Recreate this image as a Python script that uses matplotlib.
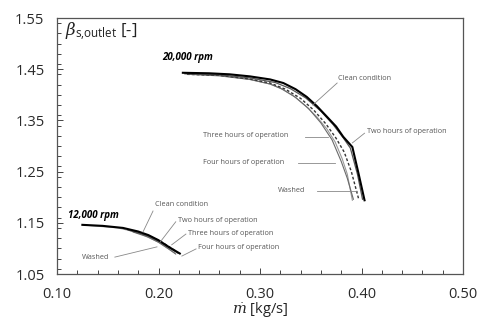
import matplotlib
matplotlib.use("Agg")
import matplotlib.pyplot as plt
from matplotlib.ticker import MultipleLocator

plt.rcParams['font.family'] = ['Open Sans', 'DejaVu Sans']
plt.rcParams['mathtext.fontset'] = 'custom'
plt.rcParams['mathtext.it'] = 'DejaVu Serif:italic'
plt.rcParams['mathtext.rm'] = 'Open Sans'

# 20,000 rpm line, mass flow [kg/s] vs beta
m20_clean = [0.224, 0.250, 0.270, 0.290, 0.310, 0.323, 0.335, 0.346, 0.356, 0.366, 0.375, 0.382, 0.391, 0.397, 0.403]
b20_clean = [1.443, 1.442, 1.440, 1.436, 1.430, 1.423, 1.411, 1.396, 1.378, 1.357, 1.338, 1.318, 1.298, 1.247, 1.194]
m20_two = [0.226, 0.260, 0.290, 0.315, 0.330, 0.345, 0.360, 0.372, 0.382, 0.389, 0.396, 0.401]
b20_two = [1.441, 1.439, 1.433, 1.424, 1.412, 1.394, 1.368, 1.342, 1.316, 1.296, 1.245, 1.196]
m20_three = [0.228, 0.260, 0.290, 0.310, 0.325, 0.340, 0.353, 0.365, 0.375, 0.383, 0.390, 0.397]
b20_three = [1.440, 1.438, 1.431, 1.423, 1.411, 1.393, 1.370, 1.343, 1.315, 1.288, 1.250, 1.198]
m20_four = [0.230, 0.260, 0.290, 0.310, 0.322, 0.335, 0.348, 0.360, 0.371, 0.380, 0.386, 0.392]
b20_four = [1.440, 1.437, 1.430, 1.421, 1.411, 1.395, 1.373, 1.345, 1.312, 1.270, 1.237, 1.196]
m20_washed = [0.230, 0.260, 0.290, 0.310, 0.320, 0.333, 0.345, 0.356, 0.366, 0.374, 0.381, 0.386, 0.391]
b20_washed = [1.441, 1.438, 1.430, 1.421, 1.413, 1.398, 1.378, 1.357, 1.333, 1.308, 1.275, 1.245, 1.194]

# 12,000 rpm line
m12_clean = [0.125, 0.145, 0.165, 0.180, 0.190, 0.200, 0.210, 0.221]
b12_clean = [1.146, 1.144, 1.140, 1.133, 1.126, 1.116, 1.103, 1.090]
m12_two = [0.170, 0.190, 0.200, 0.210, 0.219]
b12_two = [1.136, 1.124, 1.114, 1.102, 1.091]
m12_three = [0.175, 0.190, 0.200, 0.210, 0.218]
b12_three = [1.134, 1.125, 1.116, 1.104, 1.093]
m12_four = [0.175, 0.190, 0.200, 0.210, 0.217]
b12_four = [1.132, 1.122, 1.112, 1.099, 1.089]
m12_washed = [0.130, 0.160, 0.180, 0.200, 0.216]
b12_washed = [1.145, 1.140, 1.131, 1.112, 1.091]

# labels: text, text position, leader start, leader end
labels20 = [
    ("Clean condition", (0.377, 1.431), (0.376, 1.423), (0.352, 1.380)),
    ("Two hours of operation", (0.405, 1.329), (0.403, 1.325), (0.391, 1.306)),
    ("Three hours of operation", (0.244, 1.321), (0.344, 1.318), (0.367, 1.318)),
    ("Four hours of operation", (0.244, 1.267), (0.337, 1.267), (0.374, 1.267)),
    ("Washed", (0.318, 1.214), (0.356, 1.212), (0.396, 1.212)),
]
labels12 = [
    ("Clean condition", (0.1966, 1.185), (0.1946, 1.173), (0.1847, 1.132)),
    ("Two hours of operation", (0.219, 1.155), (0.217, 1.152), (0.2015, 1.112)),
    ("Three hours of operation", (0.229, 1.130), (0.227, 1.128), (0.213, 1.107)),
    ("Four hours of operation", (0.239, 1.101), (0.237, 1.099), (0.223, 1.085)),
    ("Washed", (0.1246, 1.083), (0.157, 1.083), (0.1985, 1.103)),
]

fig = plt.figure(figsize=(4.84, 3.22), dpi=100)
ax = fig.add_axes([57/484, 1-274/322, 406/484, 256/322])

for m, b, st in [
    (m20_washed, b20_washed, dict(color="#9a9a9a", lw=0.8)),
    (m20_four, b20_four, dict(color="#6a6a6a", lw=0.8)),
    (m20_three, b20_three, dict(color="#333333", lw=1.0, ls=(0, (2, 1.5)))),
    (m20_two, b20_two, dict(color="#555555", lw=0.9)),
    (m20_clean, b20_clean, dict(color="black", lw=1.5)),
    (m12_washed, b12_washed, dict(color="#9a9a9a", lw=0.8)),
    (m12_four, b12_four, dict(color="#6a6a6a", lw=0.8)),
    (m12_three, b12_three, dict(color="#333333", lw=1.0, ls=(0, (2, 1.5)))),
    (m12_two, b12_two, dict(color="#555555", lw=0.9)),
    (m12_clean, b12_clean, dict(color="black", lw=1.5)),
]:
    ax.plot(m, b, **st)

for txt, tpos, p0, p1 in labels20 + labels12:
    ax.text(tpos[0], tpos[1], txt, fontsize=5.2, color="#555555", va="center", ha="left")
    ax.plot([p0[0], p1[0]], [p0[1], p1[1]], color="#888888", lw=0.6)

ax.text(0.204, 1.472, "20,000 rpm", fontsize=7, fontstyle="italic", fontweight="bold", va="center")
ax.text(0.111, 1.165, "12,000 rpm", fontsize=7, fontstyle="italic", fontweight="bold", va="center")

# y label sits inside the axes, top left
ax.text(0.02, 0.945, r"$\beta_{\mathrm{s{,}outlet}}$ [-]", transform=ax.transAxes,
        fontsize=12, va="center", ha="left", color="#222222")

ax.set_xlim(0.10, 0.50)
ax.set_ylim(1.05, 1.55)
ax.set_xticks([0.10, 0.20, 0.30, 0.40, 0.50])
ax.set_yticks([1.05, 1.15, 1.25, 1.35, 1.45, 1.55])
ax.xaxis.set_minor_locator(MultipleLocator(0.02))
ax.yaxis.set_minor_locator(MultipleLocator(0.02))
ax.set_xticklabels(["0.10", "0.20", "0.30", "0.40", "0.50"])
ax.set_yticklabels(["1.05", "1.15", "1.25", "1.35", "1.45", "1.55"])
ax.tick_params(which="both", direction="in", colors="#444444", labelcolor="#2a2a2a", labelsize=10.5, width=0.7)
ax.tick_params(which="major", length=4)
ax.tick_params(which="minor", length=3)
ax.tick_params(axis="x", pad=9)
ax.tick_params(axis="y", pad=9)
for s in ax.spines.values():
    s.set_color("#555555")
    s.set_linewidth(0.9)

ax.set_xlabel(r"$\dot{m}$ [kg/s]", fontsize=10.5, color="#222222", labelpad=-1)

fig.savefig("out.png", dpi=100)
